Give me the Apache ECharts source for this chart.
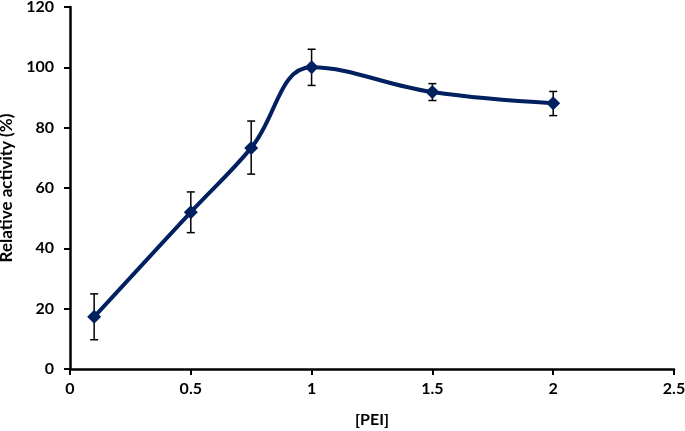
<!DOCTYPE html>
<html>
<head>
<meta charset="utf-8">
<script src="https://cdn.jsdelivr.net/npm/echarts@6/dist/echarts.min.js"></script>
<style>
  html, body { margin: 0; padding: 0; background: #fff; }
  #chart { width: 685px; height: 431px; }
</style>
</head>
<body>
<div id="chart"></div>
<script>
  // [PEI] values and relative activity
  const pei = [0.1, 0.5, 0.75, 1, 1.5, 2];
  const activity = [17.3, 52, 73.3, 100, 91.8, 88.1];
  const errLow = [9.7, 45.2, 64.6, 94, 89, 84];
  const errHigh = [24.9, 58.7, 82.2, 106, 94.6, 92];

  const font = 'Lato, "Open Sans", sans-serif';
  const navy = '#002060';

  const myChart = echarts.init(document.getElementById('chart'));

  const lineData = pei.map((x, i) => [x, activity[i]]);
  const errData = pei.map((x, i) => [x, errLow[i], errHigh[i]]);

  const option = {
    animation: false,
    grid: { left: 70, right: 11, top: 7, bottom: 62, containLabel: false, outerBoundsMode: 'none' },
    xAxis: {
      type: 'value',
      min: 0, max: 2.5, interval: 0.5,
      name: '[PEI]',
      nameLocation: 'middle',
      nameGap: 43,
      nameTextStyle: { fontFamily: font, fontWeight: 'bold', fontSize: 16, color: '#000' },
      axisLine: { show: true, lineStyle: { color: '#000', width: 2.5 } },
      axisTick: { show: true, inside: false, length: 6, lineStyle: { color: '#000', width: 2 } },
      axisLabel: { fontFamily: font, fontWeight: 'bold', fontSize: 16, color: '#000', margin: 12 },
      splitLine: { show: false }
    },
    yAxis: {
      type: 'value',
      min: 0, max: 120, interval: 20,
      name: 'Relative activity (%)',
      nameLocation: 'middle',
      nameGap: 53,
      nameTextStyle: { fontFamily: font, fontWeight: 'bold', fontSize: 17, color: '#000' },
      axisLine: { show: true, lineStyle: { color: '#000', width: 2.5 } },
      axisTick: { show: true, inside: false, length: 6, lineStyle: { color: '#000', width: 2 } },
      axisLabel: { fontFamily: font, fontWeight: 'bold', fontSize: 16, color: '#000', margin: 16 },
      splitLine: { show: false }
    },
    series: [
      {
        type: 'custom',
        z: 1,
        data: errData,
        renderItem: function (params, api) {
          const x = api.value(0);
          const lo = api.coord([x, api.value(1)]);
          const hi = api.coord([x, api.value(2)]);
          const cap = 4;
          const style = { stroke: '#000', lineWidth: 1.5 };
          return {
            type: 'group',
            children: [
              { type: 'line', shape: { x1: lo[0], y1: lo[1], x2: hi[0], y2: hi[1] }, style: style },
              { type: 'line', shape: { x1: lo[0] - cap, y1: lo[1], x2: lo[0] + cap, y2: lo[1] }, style: style },
              { type: 'line', shape: { x1: hi[0] - cap, y1: hi[1], x2: hi[0] + cap, y2: hi[1] }, style: style }
            ]
          };
        }
      },
      {
        type: 'line',
        z: 2,
        data: lineData,
        smooth: 0.4,
        symbol: 'diamond',
        symbolSize: 14,
        lineStyle: { color: navy, width: 4 },
        itemStyle: { color: navy }
      }
    ]
  };
  myChart.setOption(option);
</script>
</body>
</html>
